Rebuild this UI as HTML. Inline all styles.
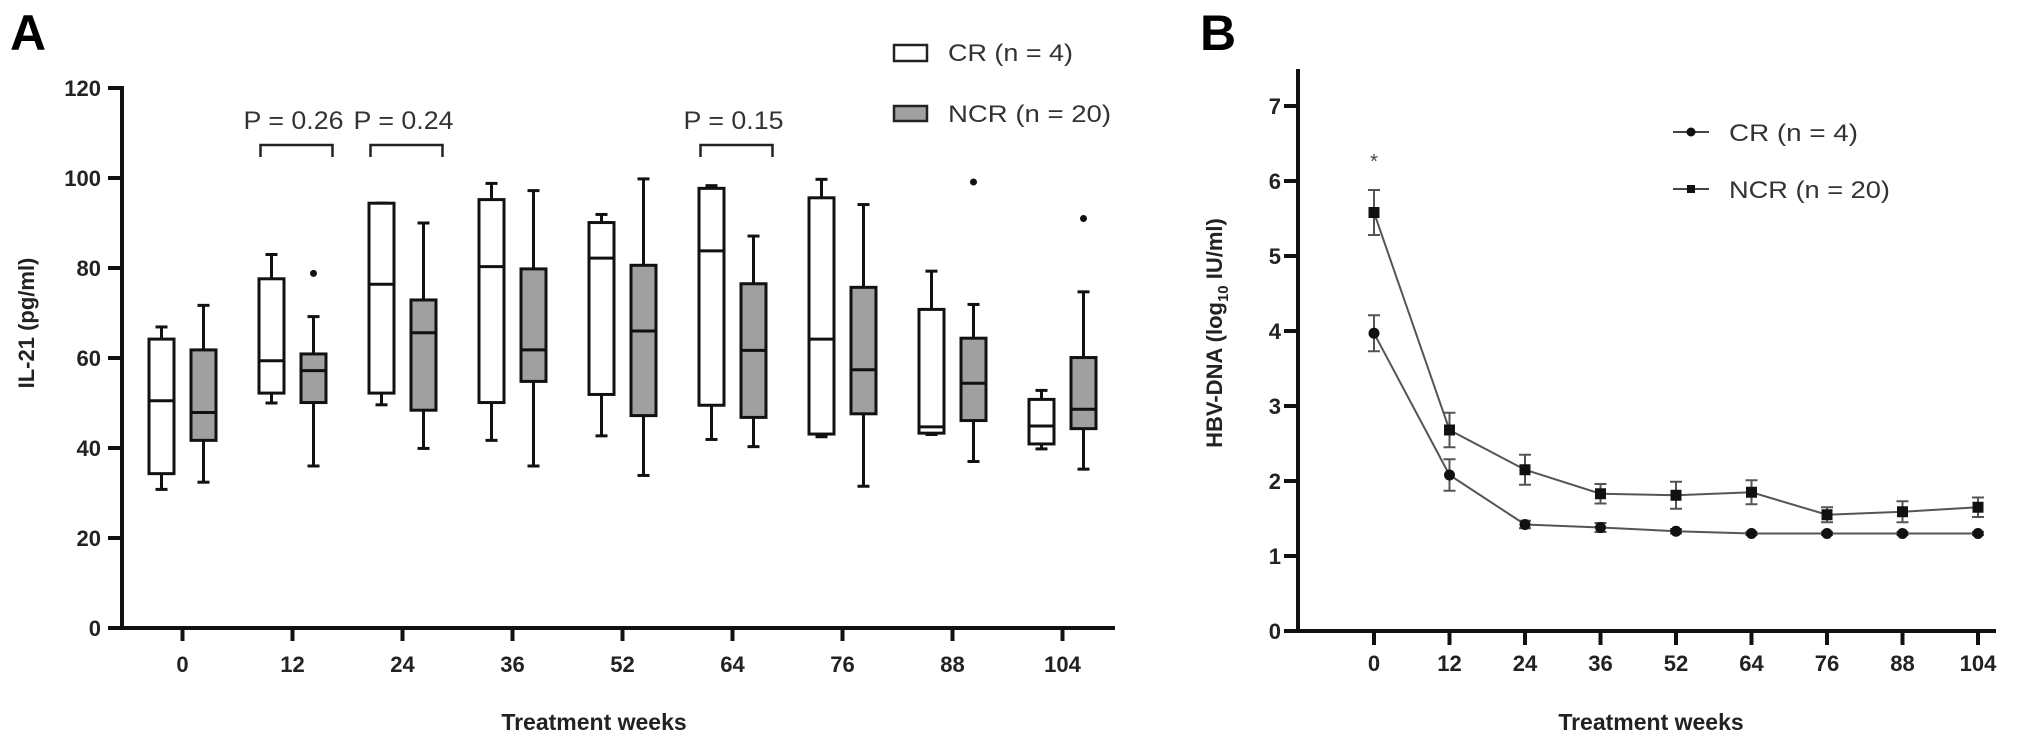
<!DOCTYPE html>
<html><head><meta charset="utf-8"><style>
html,body{margin:0;padding:0;background:#fff;}
svg{display:block;font-family:"Liberation Sans",Arial,sans-serif;}
</style></head><body>
<svg id="chart" width="2031" height="745" viewBox="0 0 2031 745">
<g id="panelA"></g>
<g id="panelB"></g>
</svg>
<script>
// ---------- Panel A data ----------
const weeksA = ["0","12","24","36","52","64","76","88","104"];
const crMin = [30.8,50,49.6,41.7,42.7,41.9,42.5,43,39.8];
const crQ1  = [34.3,52.2,52.2,50.1,51.9,49.5,43.1,43.3,40.9];
const crMed = [50.5,59.4,76.4,80.3,82.2,83.8,64.2,44.7,44.9];
const crQ3  = [64.2,77.6,94.4,95.2,90.1,97.7,95.6,70.8,50.8];
const crMax = [66.9,83,94.4,98.8,91.9,98.3,99.7,79.3,52.8];
const ncrMin = [32.4,36,39.9,36,33.9,40.3,31.5,37,35.3];
const ncrQ1  = [41.7,50.1,48.4,54.8,47.2,46.8,47.6,46.1,44.3];
const ncrMed = [47.9,57.2,65.6,61.8,66,61.7,57.4,54.4,48.6];
const ncrQ3  = [61.8,60.9,72.9,79.8,80.6,76.5,75.7,64.4,60.1];
const ncrMax = [71.7,69.2,90,97.2,99.8,87.1,94.1,71.9,74.7];
const ncrOutlierIdx = [1,7,8];
const ncrOutlierVal = [78.8,99.1,91];
const yTicksA = [0,20,40,60,80,100,120];
const pIdx = [1,2,5];
const pLabels = ["P = 0.26","P = 0.24","P = 0.15"];

// ---------- Panel B data ----------
const weeksB = ["0","12","24","36","52","64","76","88","104"];
const crMean = [3.97,2.08,1.42,1.38,1.33,1.30,1.30,1.30,1.30];
const crErr  = [0.24,0.21,0.05,0.06,0.03,0.02,0.02,0.02,0.02];
const ncrMean = [5.58,2.68,2.15,1.83,1.81,1.85,1.55,1.59,1.65];
const ncrErr  = [0.30,0.23,0.20,0.13,0.18,0.16,0.10,0.14,0.13];
const yTicksB = [0,1,2,3,4,5,6,7];

const NS="http://www.w3.org/2000/svg";
function mk(parent,tag,attrs,text){const e=document.createElementNS(NS,tag);for(const k in attrs)e.setAttribute(k,attrs[k]);if(text!==undefined)e.textContent=text;parent.appendChild(e);return e;}

// ===== Panel A =====
const A=document.getElementById('panelA');
const axA={x0:122,y0:628,pxPer:4.5,xFirst:182.5,step:110,xEnd:1115};
const yA=v=>axA.y0-v*axA.pxPer;
const xA=i=>axA.xFirst+i*axA.step;

let t=mk(A,'text',{x:10,y:50,'font-size':50,'font-weight':'bold'},'A');



let ax=mk(A,'path',{d:`M${axA.x0},${yA(120)-2} V${axA.y0} H${axA.xEnd}`,stroke:'#111','stroke-width':4,fill:'none'});


yTicksA.forEach(v=>{
  const l=mk(A,'line',{x1:axA.x0-14,x2:axA.x0,y1:yA(v),y2:yA(v),stroke:'#111','stroke-width':4});
  
  
  const tx=mk(A,'text',{x:101,y:yA(v)+8,'font-size':22,'font-weight':'bold','text-anchor':'end',fill:'#222'},String(v));
  
  
});
weeksA.forEach((w,i)=>{
  const l=mk(A,'line',{x1:xA(i),x2:xA(i),y1:axA.y0,y2:axA.y0+13,stroke:'#111','stroke-width':4});
  
  
  const tx=mk(A,'text',{x:xA(i),y:672,'font-size':22,'font-weight':'bold','text-anchor':'middle',fill:'#222'},w);
  
  
});
t=mk(A,'text',{x:594,y:730,'font-size':23,'font-weight':'bold','text-anchor':'middle',fill:'#222'},'Treatment weeks');


t=mk(A,'text',{x:0,y:0,'font-size':22,'font-weight':'bold','text-anchor':'middle',fill:'#222',transform:'translate(34,323) rotate(-90)'},'IL-21 (pg/ml)');



function box(cx,mn,q1,md,q3,mx,fill,name){
  const g=mk(A,'g',{});
  
  
  const w=25;
  mk(g,'line',{x1:cx,x2:cx,y1:yA(q3),y2:yA(mx),stroke:'#111','stroke-width':3});
  mk(g,'line',{x1:cx,x2:cx,y1:yA(q1),y2:yA(mn),stroke:'#111','stroke-width':3});
  mk(g,'line',{x1:cx-6,x2:cx+6,y1:yA(mx),y2:yA(mx),stroke:'#111','stroke-width':3});
  mk(g,'line',{x1:cx-6,x2:cx+6,y1:yA(mn),y2:yA(mn),stroke:'#111','stroke-width':3});
  mk(g,'rect',{x:cx-w/2,y:yA(q3),width:w,height:yA(q1)-yA(q3),fill:fill,stroke:'#111','stroke-width':3});
  mk(g,'line',{x1:cx-w/2,x2:cx+w/2,y1:yA(md),y2:yA(md),stroke:'#111','stroke-width':3});
}
weeksA.forEach((w,i)=>{
  box(xA(i)-21,crMin[i],crQ1[i],crMed[i],crQ3[i],crMax[i],'#fff','box-cr-week-'+w);
  box(xA(i)+21,ncrMin[i],ncrQ1[i],ncrMed[i],ncrQ3[i],ncrMax[i],'#a0a0a0','box-ncr-week-'+w);
});
ncrOutlierIdx.forEach((idx,k)=>{
  const c=mk(A,'circle',{cx:xA(idx)+21,cy:yA(ncrOutlierVal[k]),r:3.5,fill:'#111'});
  
  
});
pIdx.forEach((idx,k)=>{
  const cx=xA(idx)+4;
  const b=mk(A,'path',{d:`M${cx-36},157 V145 H${cx+36} V157`,stroke:'#222','stroke-width':2.5,fill:'none'});
  
  
  const tx=mk(A,'text',{x:cx-3,y:129,'font-size':25,'text-anchor':'middle',fill:'#333',textLength:100,lengthAdjust:'spacingAndGlyphs'},pLabels[k]);
  
  
});
// Legend A
let lg=mk(A,'g',{});


let le=mk(lg,'rect',{x:894,y:45,width:33,height:16,fill:'#fff',stroke:'#222','stroke-width':2.5});


le=mk(lg,'text',{x:948,y:61,'font-size':24,fill:'#333',textLength:125,lengthAdjust:'spacingAndGlyphs'},'CR (n = 4)');


le=mk(lg,'rect',{x:894,y:106,width:33,height:15,fill:'#a0a0a0',stroke:'#222','stroke-width':2.5});


le=mk(lg,'text',{x:948,y:122,'font-size':24,fill:'#333',textLength:163,lengthAdjust:'spacingAndGlyphs'},'NCR (n = 20)');



// ===== Panel B =====
const B=document.getElementById('panelB');
const axB={x0:1298,y0:631,pxPer:75,xFirst:1374,step:75.5,xEnd:1996};
const yB=v=>axB.y0-v*axB.pxPer;
const xB=i=>axB.xFirst+i*axB.step;

t=mk(B,'text',{x:1200,y:50,'font-size':50,'font-weight':'bold'},'B');


ax=mk(B,'path',{d:`M${axB.x0},69 V${axB.y0} H${axB.xEnd}`,stroke:'#111','stroke-width':4,fill:'none'});


yTicksB.forEach(v=>{
  const l=mk(B,'line',{x1:axB.x0-14,x2:axB.x0,y1:yB(v),y2:yB(v),stroke:'#111','stroke-width':4});
  
  
  const tx=mk(B,'text',{x:1281,y:yB(v)+8,'font-size':22,'font-weight':'bold','text-anchor':'end',fill:'#222'},String(v));
  
  
});
weeksB.forEach((w,i)=>{
  const l=mk(B,'line',{x1:xB(i),x2:xB(i),y1:axB.y0,y2:axB.y0+14,stroke:'#111','stroke-width':4});
  
  
  const tx=mk(B,'text',{x:xB(i),y:671,'font-size':22,'font-weight':'bold','text-anchor':'middle',fill:'#222'},w);
  
  
});
t=mk(B,'text',{x:1651,y:730,'font-size':23,'font-weight':'bold','text-anchor':'middle',fill:'#222'},'Treatment weeks');


t=mk(B,'text',{x:0,y:0,'font-size':22,'font-weight':'bold','text-anchor':'middle',fill:'#222',transform:'translate(1222,333) rotate(-90)'});


t.appendChild(document.createTextNode('HBV-DNA (log'));
const sub=mk(t,'tspan',{'font-size':15,dy:6},'10');
mk(t,'tspan',{dy:-6},' IU/ml)');

function series(mean,err,shape,name){
  const g=mk(B,'g',{});
  
  
  const pts=mean.map((v,i)=>xB(i)+','+yB(v)).join(' ');
  const pl=mk(g,'polyline',{points:pts,fill:'none',stroke:'#555','stroke-width':2});
  
  
  mean.forEach((v,i)=>{
    const x=xB(i),hi=yB(v+err[i]),lo=yB(v-err[i]);
    const eb=mk(g,'path',{d:`M${x},${hi} V${lo} M${x-6},${hi} H${x+6} M${x-6},${lo} H${x+6}`,stroke:'#555','stroke-width':2,fill:'none'});
    
    
    let m;
    if(shape==='circle') m=mk(g,'circle',{cx:x,cy:yB(v),r:5.5,fill:'#111'});
    else m=mk(g,'rect',{x:x-5.5,y:yB(v)-5.5,width:11,height:11,fill:'#111'});
    
    
  });
}
series(crMean,crErr,'circle','series-cr');
series(ncrMean,ncrErr,'square','series-ncr');
t=mk(B,'text',{x:xB(0),y:168,'font-size':20,'text-anchor':'middle',fill:'#444'},'*');



lg=mk(B,'g',{});


mk(lg,'line',{x1:1673,x2:1709,y1:132,y2:132,stroke:'#444','stroke-width':2});
mk(lg,'circle',{cx:1691,cy:132,r:4.5,fill:'#111'});
le=mk(lg,'text',{x:1729,y:141,'font-size':24,fill:'#333',textLength:129,lengthAdjust:'spacingAndGlyphs'},'CR (n = 4)');


mk(lg,'line',{x1:1673,x2:1709,y1:189,y2:189,stroke:'#444','stroke-width':2});
mk(lg,'rect',{x:1687,y:185,width:8,height:8,fill:'#111'});
le=mk(lg,'text',{x:1729,y:198,'font-size':24,fill:'#333',textLength:161,lengthAdjust:'spacingAndGlyphs'},'NCR (n = 20)');


</script>
</body></html>
